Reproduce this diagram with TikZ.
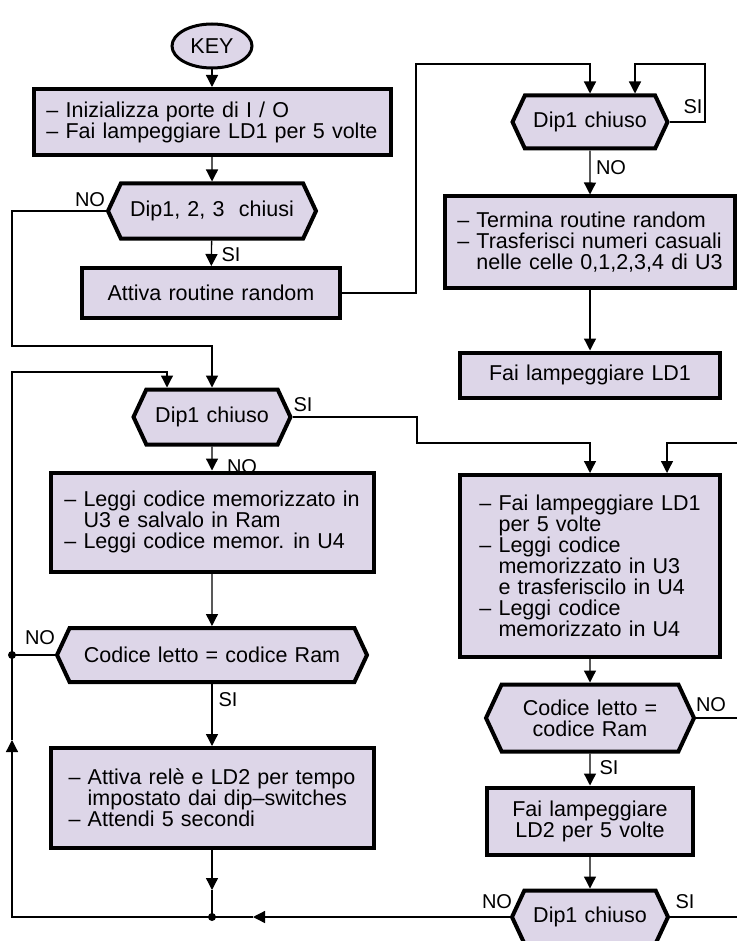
\documentclass[tikz,border=0pt]{standalone}
\usepackage{fontspec}
\setmainfont[WordSpace=1.2]{Liberation Sans}
\usetikzlibrary{arrows.meta,shapes.geometric,shapes.symbols,positioning}
\definecolor{boxfill}{RGB}{221,214,232}
\newcommand{\ind}{\hphantom{– }}
\tikzset{
  txt/.style={font=\fontsize{21.5}{21}\selectfont},
  proc/.style={txt,draw,line width=4pt,fill=boxfill,align=left,inner sep=0pt},
  test/.style={txt,draw,line width=4pt,fill=boxfill,signal,signal to=east and west,signal pointer angle=130,inner sep=0pt,align=center},
  startend/.style={txt,draw,line width=3pt,fill=boxfill,ellipse,inner sep=0pt},
  flow/.style={line width=1.3pt,-{Triangle[length=12pt,width=12pt]}},
  plain/.style={line width=1.3pt},
  lbl/.style={font=\fontsize{20}{20}\selectfont,inner sep=0pt},
  dot/.style={circle,fill,inner sep=0pt,minimum size=8pt}
}
\begin{document}
\begin{tikzpicture}[x=1pt,y=-1pt]
\useasboundingbox (0,0) rectangle (736,941);
\node[startend,minimum width=80pt,minimum height=44pt] (key) at (212,46) {KEY};
\node[proc,minimum width=357pt,minimum height=66pt] (init) at (212,122) {– Inizializza porte di I / O\\– Fai lampeggiare LD1 per 5 volte};
\node[test,minimum width=208pt,minimum height=55pt] (dipA) at (212,211) {Dip1, 2, 3\ \ chiusi};
\node[proc,minimum width=258pt,minimum height=50pt] (random) at (211,293) {Attiva routine random};
\node[test,minimum width=155pt,minimum height=53pt] (dipB) at (590,122) {Dip1 chiuso};
\node[proc,minimum width=290pt,minimum height=91pt] (term) at (590,242) {– Termina routine random\\– Trasferisci numeri casuali\\\ind nelle celle 0,1,2,3,4 di U3};
\node[proc,minimum width=260pt,minimum height=45pt] (lamp) at (590,375) {Fai lampeggiare LD1};
\node[test,minimum width=157pt,minimum height=55pt] (dipC) at (212,417) {Dip1 chiuso};
\node[proc,minimum width=323pt,minimum height=99pt] (read) at (212,522) {– Leggi codice memorizzato in\\\ind U3 e salvalo in Ram\\– Leggi codice memor. in U4};
\node[test,minimum width=310pt,minimum height=54pt] (codeA) at (212,655) {Codice letto = codice Ram};
\node[proc,minimum width=323pt,minimum height=100pt] (relay) at (212,798) {– Attiva relè e LD2 per tempo\\\ind impostato dai dip–switches\\– Attendi 5 secondi};
\node[proc,minimum width=260pt,minimum height=182pt] (flash) at (590,566) {– Fai lampeggiare LD1\\\ind per 5 volte\\– Leggi codice\\\ind memorizzato in U3\\\ind e trasferiscilo in U4\\– Leggi codice\\\ind memorizzato in U4};
\node[test,minimum width=208pt,minimum height=67pt] (codeB) at (590,718) {Codice letto =\\codice Ram};
\node[proc,minimum width=206pt,minimum height=67pt,align=center] (ld2) at (590,821) {Fai lampeggiare\\LD2 per 5 volte};
\node[test,minimum width=156pt,minimum height=53pt] (dipD) at (590,917) {Dip1 chiuso};

\node[lbl] (noA) at (90,200) {NO};
\node[lbl] (siA) at (231,255) {SI};
\node[lbl] (noB) at (611,168) {NO};
\node[lbl] (siB) at (693,107) {SI};
\node[lbl] (siC) at (303,405) {SI};
\node[lbl] (noC) at (242,467) {NO};
\node[lbl] (noD) at (40,638) {NO};
\node[lbl] (siD) at (228,700) {SI};
\node[lbl] (noE) at (711,705) {NO};
\node[lbl] (siE) at (609,768) {SI};
\node[lbl] (noF) at (497,902) {NO};
\node[lbl] (siF) at (685,902) {SI};

\coordinate (a1) at (12,346);
\coordinate (a2) at (416,64);
\coordinate (a3) at (705,64);
\coordinate (a4) at (417,443);
\coordinate (a5) at (745,443);
\coordinate (a6) at (12,372);
\coordinate (a7) at (12,917);
\coordinate (a8) at (745,718);
\coordinate (a9) at (745,917);
\coordinate (a10) at (212,890);
\coordinate (a11) at (253,917);
\coordinate (a12) at (12,740);
\coordinate (j1) at (12,655);
\coordinate (j2) at (212,917);

\draw[flow] (key) -- (init);
\draw[flow] (init) -- (dipA);
\draw[flow] (dipA) -- (random);
\draw[flow] (dipA.west) -| (a1) -| (dipC.north);
\draw[flow] (random.east) -| (a2) -| (dipB.north);
\draw[flow] (dipB.east) -| (a3) -| ([xshift=45pt]dipB.north);
\draw[flow] (dipB) -- (term);
\draw[flow] (term) -- (lamp);
\draw[flow] (dipC.east) -| (a4) -| (flash.north);
\draw[flow] (dipC) -- (read);
\draw[flow] (read) -- (codeA);
\draw[plain] (codeA.west) -- (j1);
\draw[flow] (codeA) -- (relay);
\draw[flow] (relay) -- (a10);
\draw[plain] (a10) -- (j2);
\draw[flow] (dipD.west) -- (a11);
\draw[plain] (a11) -- (j2);
\draw[flow] (j2) -- (a7) -- (a12);
\draw[flow] (a12) -- (a6) -| ([xshift=-45pt]dipC.north);
\draw[flow] (flash) -- (codeB);
\draw[flow] (codeB) -- (ld2);
\draw[flow] (ld2) -- (dipD);
\draw[plain] (codeB.east) -- (a8);
\draw[flow] (dipD.east) -- (a9) -- (a5) -| ([xshift=77pt]flash.north);
\node[dot] (d1) at (j1) {};
\node[dot] (d2) at (j2) {};
\end{tikzpicture}
\end{document}
